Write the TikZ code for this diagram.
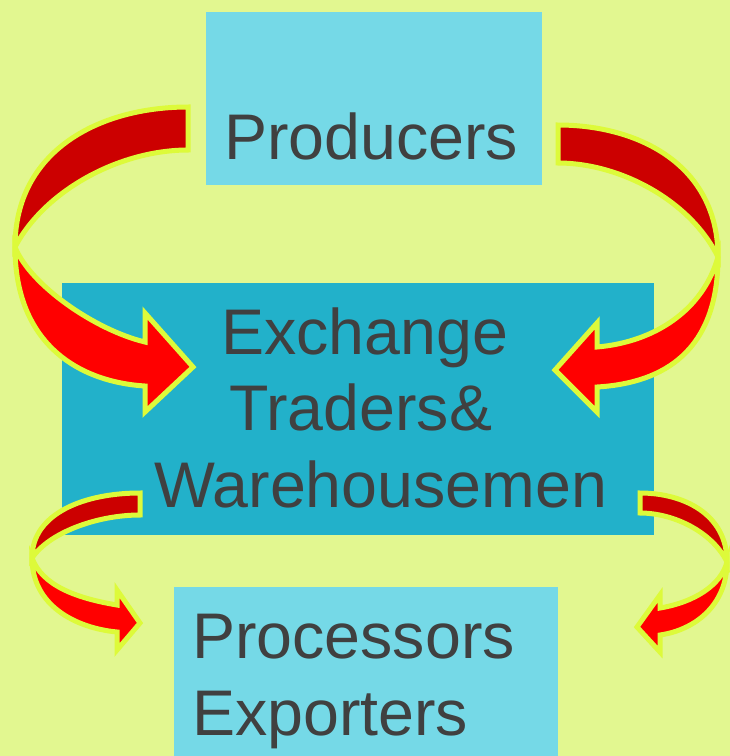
\documentclass[tikz,border=0pt]{standalone}
\usepackage{fontspec}
\setmainfont{Liberation Sans}
\definecolor{bgc}{HTML}{E2F790}
\definecolor{lightbox}{HTML}{75D9E7}
\definecolor{tealbox}{HTML}{22B1CA}
\definecolor{txt}{HTML}{404040}
\definecolor{darkred}{HTML}{CC0000}
\definecolor{brightred}{HTML}{FF0000}
\definecolor{outl}{HTML}{DDFA3A}
\begin{document}
\begin{tikzpicture}[x=1pt,y=-1pt,
  lbl/.style={anchor=base west,inner sep=0pt,text=txt,font=\fontsize{64.5}{77}\selectfont},
  backpart/.style={fill=darkred,draw=outl,line width=5pt,line join=miter},
  frontpart/.style={fill=brightred,draw=outl,line width=5pt,line join=miter}]
\useasboundingbox (0,0) rectangle (730,756);
\fill[bgc] (0,0) rectangle (730,756);
% boxes
\fill[lightbox] (206,12) rectangle (542,185);
\fill[tealbox] (62,283) rectangle (654,535);
\fill[lightbox] (174,587) rectangle (558,756);
% texts
\node[lbl] (prod) at (224,159) {Producers};
\node[lbl] (exch) at (221,354) {Exchange};
\node[lbl] (trad) at (229,430) {Traders\&};
\node[lbl] (ware) at (154,507) {Warehousemen};
\node[lbl] (proc) at (192,658) {Processors};
\node[lbl] (expo) at (192,735) {Exporters};
% arrow 1 (top left)
\draw[backpart] (188,107) .. controls (100,107) and (15,150) .. (15,247)
  .. controls (45,190) and (120,150) .. (188,150) -- cycle;
\draw[frontpart] (15,247) .. controls (15,345) and (80,382) .. (145,386) -- (145,412) -- (193,367)
  -- (145,313) -- (145,342) .. controls (95,330) and (30,285) .. (15,247) -- cycle;
% arrow 2 (top right)
\draw[backpart] (558,125) .. controls (639.4,125) and (718,165.5) .. (718,257)
  .. controls (691,201.5) and (621,163) .. (558,163) -- cycle;
\draw[frontpart] (718,257) .. controls (718,350) and (665,383) .. (597,387) -- (597,412) -- (555,370)
  -- (597,323) -- (597,347) .. controls (655,342) and (703,310) .. (718,257) -- cycle;
% arrow 3 (bottom left)
\draw[backpart] (140,493) .. controls (85,493) and (32,513) .. (32,558)
  .. controls (49,532.6) and (97,515) .. (140,515) -- cycle;
\draw[frontpart] (32,558) .. controls (32,605) and (75,628) .. (117,632) -- (117,650) -- (140,623)
  -- (117,590) -- (117,605) .. controls (75,598) and (42,585) .. (32,558) -- cycle;
% arrow 4 (bottom right)
\draw[backpart] (640,493) .. controls (684,493) and (727,514.4) .. (727,562)
  .. controls (713,533) and (675,513) .. (640,513) -- cycle;
\draw[frontpart] (727,562) .. controls (727,605) and (695,630) .. (660,635) -- (660,652) -- (637,627)
  -- (660,595) -- (660,608) .. controls (695,602) and (721,585) .. (727,562) -- cycle;
\end{tikzpicture}
\end{document}
